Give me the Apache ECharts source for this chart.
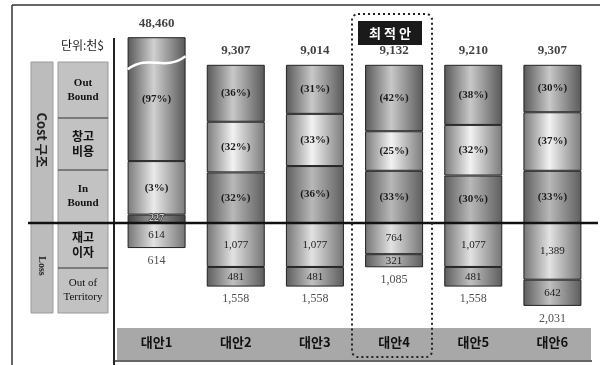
<!DOCTYPE html>
<html>
<head>
<meta charset="utf-8">
<script src="https://cdn.jsdelivr.net/npm/echarts@6/dist/echarts.min.js"></script>
<style>
html,body{margin:0;padding:0;background:#fff;}
#chart{width:608px;height:365px;}
</style>
</head>
<body>
<div id="chart"></div>
<script>
var categories = ['대안1','대안2','대안3','대안4','대안5','대안6'];
var costTotal = [48460, 9307, 9014, 9132, 9210, 9307];
var outBoundPct = [97, 36, 31, 42, 38, 30];
var warehousePct = [3, 32, 33, 25, 32, 37];
var inBoundPct = [null, 32, 36, 33, 30, 33];
var inBoundAmount1 = 227;   // 대안1 In Bound (금액)
var interestLoss = [614, 1077, 1077, 764, 1077, 1389];
var territoryLoss = [null, 481, 481, 321, 481, 642];

var SERIF = '"Liberation Serif", "DejaVu Serif", serif';
var KR = '"Noto Sans CJK KR", sans-serif';

function fmt(v){ return Number(v).toLocaleString('en-US'); }

// 원통 느낌의 가로 그라데이션
function cyl(edge, mid){
	return new echarts.graphic.LinearGradient(0, 0, 1, 0, [
		{offset: 0, color: edge},
		{offset: 0.45, color: mid},
		{offset: 1, color: edge}
	]);
}

// 대안1 은 금액 축(끊어진 축)으로 그린다
var b1Warehouse = Math.round(costTotal[0] * warehousePct[0] / 100);
var b1Out = costTotal[0] - b1Warehouse - inBoundAmount1;
var b1BreakStart = 4256, b1BreakEnd = 47676;

function skipFirst(arr){
	return arr.map(function(v, i){ return i === 0 ? '-' : v; });
}
var pctTop = categories.map(function(c, i){
	return i === 0 ? '-' : outBoundPct[i] + warehousePct[i] + inBoundPct[i];
});
var lossTotal = categories.map(function(c, i){
	return (interestLoss[i] || 0) + (territoryLoss[i] || 0);
});

var segLabel = {
	show: true, position: 'inside', color: '#1a1a1a',
	fontFamily: SERIF, fontWeight: 'bold', fontSize: 11
};
var numLabel = {
	show: true, position: 'inside', color: '#1a1a1a',
	fontFamily: SERIF, fontSize: 11
};

function barItem(color){
	return {color: color, borderColor: '#222', borderWidth: 1};
}

var hiddenCat = function(grid, data){
	return {type: 'category', gridIndex: grid, data: data, show: false};
};

var myChart = echarts.init(document.getElementById('chart'), null, {renderer: 'canvas'});

var option = {
	animation: false,
	backgroundColor: '#fff',
	grid: [
		{left: 117, top: 30, width: 475, height: 193},
		{left: 117, top: 30, width: 79.17, height: 193},
		{left: 117, top: 223, width: 475, height: 100}
	],
	xAxis: [
		hiddenCat(0, categories),
		hiddenCat(1, [categories[0]]),
		{
			type: 'category', gridIndex: 2, data: categories, position: 'bottom',
			axisLine: {show: false}, axisTick: {show: false},
			axisLabel: {margin: 13, fontFamily: KR, fontWeight: 'bold', fontSize: 13, color: '#111'}
		}
	],
	yAxis: [
		{type: 'value', gridIndex: 0, min: 0, max: 122, show: false},
		{
			type: 'value', gridIndex: 1, min: 0, max: 48656,
			axisLine: {show: false}, axisTick: {show: false}, axisLabel: {show: false}, splitLine: {show: false},
			breaks: [{start: b1BreakStart, end: b1BreakEnd, gap: 6}],
			breakArea: {show: false, expandOnClick: false}
		},
		{type: 'value', gridIndex: 2, min: 0, max: 2450, inverse: true, show: false}
	],
	series: [
		// Cost 구조 (대안2~6, 비율)
		{
			name: 'In Bound', type: 'bar', xAxisIndex: 0, yAxisIndex: 0, stack: 'cost', barWidth: 58,
			data: skipFirst(inBoundPct), itemStyle: barItem(cyl('#5e5e5e', '#b8b8b8')),
			label: Object.assign({}, segLabel, {formatter: '({c}%)'})
		},
		{
			name: '창고비용', type: 'bar', xAxisIndex: 0, yAxisIndex: 0, stack: 'cost', barWidth: 58,
			data: skipFirst(warehousePct), itemStyle: barItem(cyl('#7a7a7a', '#f2f2f2')),
			label: Object.assign({}, segLabel, {formatter: '({c}%)'})
		},
		{
			name: 'Out Bound', type: 'bar', xAxisIndex: 0, yAxisIndex: 0, stack: 'cost', barWidth: 58,
			data: skipFirst(outBoundPct), itemStyle: barItem(cyl('#585858', '#c8c8c8')),
			label: Object.assign({}, segLabel, {formatter: '({c}%)'})
		},
		{
			type: 'scatter', xAxisIndex: 0, yAxisIndex: 0, data: pctTop, symbolSize: 1,
			itemStyle: {color: 'rgba(0,0,0,0)'},
			label: {
				show: true, position: 'top', distance: 7, color: '#111',
				fontFamily: SERIF, fontWeight: 'bold', fontSize: 13,
				formatter: function(p){ return fmt(costTotal[p.dataIndex]); }
			}
		},
		// 대안1 (금액, 축 끊김)
		{
			type: 'bar', xAxisIndex: 1, yAxisIndex: 1, stack: 'b1', barWidth: 58,
			data: [inBoundAmount1], itemStyle: barItem(cyl('#444444', '#9a9a9a')),
			label: Object.assign({}, numLabel, {
				fontSize: 10, color: '#f4f4f4', textBorderColor: '#333', textBorderWidth: 1.5,
				formatter: function(p){ return fmt(p.value); }
			})
		},
		{
			type: 'bar', xAxisIndex: 1, yAxisIndex: 1, stack: 'b1', barWidth: 58,
			data: [b1Warehouse], itemStyle: barItem(cyl('#7a7a7a', '#eaeaea')),
			label: Object.assign({}, segLabel, {formatter: '(' + warehousePct[0] + '%)'})
		},
		{
			type: 'bar', xAxisIndex: 1, yAxisIndex: 1, stack: 'b1', barWidth: 58,
			data: [b1Out], itemStyle: barItem(cyl('#585858', '#d0d0d0')),
			label: Object.assign({}, segLabel, {formatter: '(' + outBoundPct[0] + '%)'})
		},
		{
			type: 'scatter', xAxisIndex: 1, yAxisIndex: 1, data: [costTotal[0]], symbolSize: 1,
			itemStyle: {color: 'rgba(0,0,0,0)'},
			label: {
				show: true, position: 'top', distance: 7, color: '#111',
				fontFamily: SERIF, fontWeight: 'bold', fontSize: 13,
				formatter: function(p){ return fmt(p.value); }
			}
		},
		// Loss
		{
			name: '재고이자', type: 'bar', xAxisIndex: 2, yAxisIndex: 2, stack: 'loss', barWidth: 58,
			data: interestLoss, itemStyle: barItem(cyl('#747474', '#e2e2e2')),
			label: Object.assign({}, numLabel, {formatter: function(p){ return fmt(p.value); }})
		},
		{
			name: 'Out of Territory', type: 'bar', xAxisIndex: 2, yAxisIndex: 2, stack: 'loss', barWidth: 58,
			data: territoryLoss, itemStyle: barItem(cyl('#5c5c5c', '#c0c0c0')),
			label: Object.assign({}, numLabel, {formatter: function(p){ return fmt(p.value); }})
		},
		{
			type: 'scatter', xAxisIndex: 2, yAxisIndex: 2, data: lossTotal, symbolSize: 1,
			itemStyle: {color: 'rgba(0,0,0,0)'},
			label: {
				show: true, position: 'bottom', distance: 6, color: '#222',
				fontFamily: SERIF, fontSize: 12,
				formatter: function(p){ return fmt(p.value); }
			}
		}
	],
	graphic: [
		// 테두리
		{type: 'line', shape: {x1: 12, y1: 5, x2: 600, y2: 5}, style: {stroke: '#333', lineWidth: 1.5}},
		{type: 'line', shape: {x1: 12, y1: 5, x2: 12, y2: 365}, style: {stroke: '#333', lineWidth: 1.5}},
		{type: 'line', shape: {x1: 114, y1: 38, x2: 114, y2: 365}, style: {stroke: '#222', lineWidth: 2}},
		// 하단 대안 띠
		{type: 'rect', z: -10, shape: {x: 117, y: 328, width: 474, height: 32}, style: {fill: '#a8a8a8'}},
		{type: 'line', shape: {x1: 114, y1: 361, x2: 592, y2: 361}, style: {stroke: '#333', lineWidth: 1.5}},
		// 왼쪽 항목 표
		{type: 'rect', shape: {x: 31, y: 62, width: 22, height: 251}, style: {fill: '#bcbcbc', stroke: '#9a9a9a'}},
		{type: 'rect', shape: {x: 58, y: 62, width: 50, height: 251}, style: {fill: '#c2c2c2', stroke: '#9a9a9a'}},
		{type: 'line', shape: {x1: 58, y1: 118, x2: 108, y2: 118}, style: {stroke: '#333', lineWidth: 1}},
		{type: 'line', shape: {x1: 58, y1: 170, x2: 108, y2: 170}, style: {stroke: '#333', lineWidth: 1}},
		{type: 'line', shape: {x1: 58, y1: 268, x2: 108, y2: 268}, style: {stroke: '#333', lineWidth: 1}},
		{type: 'text', x: 42, y: 140, rotation: -Math.PI / 2,
			style: {text: 'Cost 구조', x: 0, y: 0, textAlign: 'center', textVerticalAlign: 'middle', font: 'bold 13px ' + KR, fill: '#222'}},
		{type: 'text', x: 42, y: 266, rotation: -Math.PI / 2,
			style: {text: 'Loss', x: 0, y: 0, textAlign: 'center', textVerticalAlign: 'middle', font: 'bold 10px ' + SERIF, fill: '#222'}},
		{type: 'text', style: {text: 'Out\nBound', x: 83, y: 90, textAlign: 'center', textVerticalAlign: 'middle', lineHeight: 14, font: 'bold 11px ' + SERIF, fill: '#111'}},
		{type: 'text', style: {text: '창고\n비용', x: 83, y: 144, textAlign: 'center', textVerticalAlign: 'middle', lineHeight: 15, font: 'bold 12px ' + KR, fill: '#111'}},
		{type: 'text', style: {text: 'In\nBound', x: 83, y: 196, textAlign: 'center', textVerticalAlign: 'middle', lineHeight: 14, font: 'bold 11px ' + SERIF, fill: '#111'}},
		{type: 'text', style: {text: '재고\n이자', x: 83, y: 245, textAlign: 'center', textVerticalAlign: 'middle', lineHeight: 15, font: 'bold 12px ' + KR, fill: '#111'}},
		{type: 'text', style: {text: 'Out of\nTerritory', x: 83, y: 290, textAlign: 'center', textVerticalAlign: 'middle', lineHeight: 14, font: '11px ' + SERIF, fill: '#111'}},
		{type: 'text', style: {text: '단위:천$', x: 104, y: 45, textAlign: 'right', textVerticalAlign: 'middle', font: '12px ' + KR, fill: '#222'}},
		// 기준선
		{type: 'line', z: 50, shape: {x1: 28, y1: 223, x2: 598, y2: 223}, style: {stroke: '#111', lineWidth: 2.5}},
		// 최적안
		{type: 'rect', z: 50, shape: {x: 352, y: 14, width: 80, height: 343, r: 6},
			style: {fill: 'none', stroke: '#222', lineWidth: 2, lineDash: [2, 3]}},
		{type: 'rect', z: 50, shape: {x: 358, y: 21, width: 64, height: 24}, style: {fill: '#1a1a1a'}},
		{type: 'text', z: 51, style: {text: '최 적 안', x: 390, y: 33, textAlign: 'center', textVerticalAlign: 'middle', font: 'bold 13px ' + KR, fill: '#fff'}}
	]
};

myChart.setOption(option);

// 대안1 축 끊김 자리에 흰 물결선
var cx = myChart.convertToPixel({xAxisIndex: 1}, categories[0]);
var yb = myChart.convertToPixel({yAxisIndex: 1}, b1BreakStart) - 3;
var x0 = cx - 29, x1 = cx + 29;
option.graphic.push({
	type: 'bezierCurve', z: 40,
	shape: {x1: x0, y1: yb + 6, cpx1: x0 + 22, cpy1: yb - 10, cpx2: x0 + 36, cpy2: yb + 9, x2: x1, y2: yb - 7},
	style: {stroke: '#fff', lineWidth: 2.5, fill: 'none'}
});
myChart.setOption(option);
</script>
</body>
</html>
